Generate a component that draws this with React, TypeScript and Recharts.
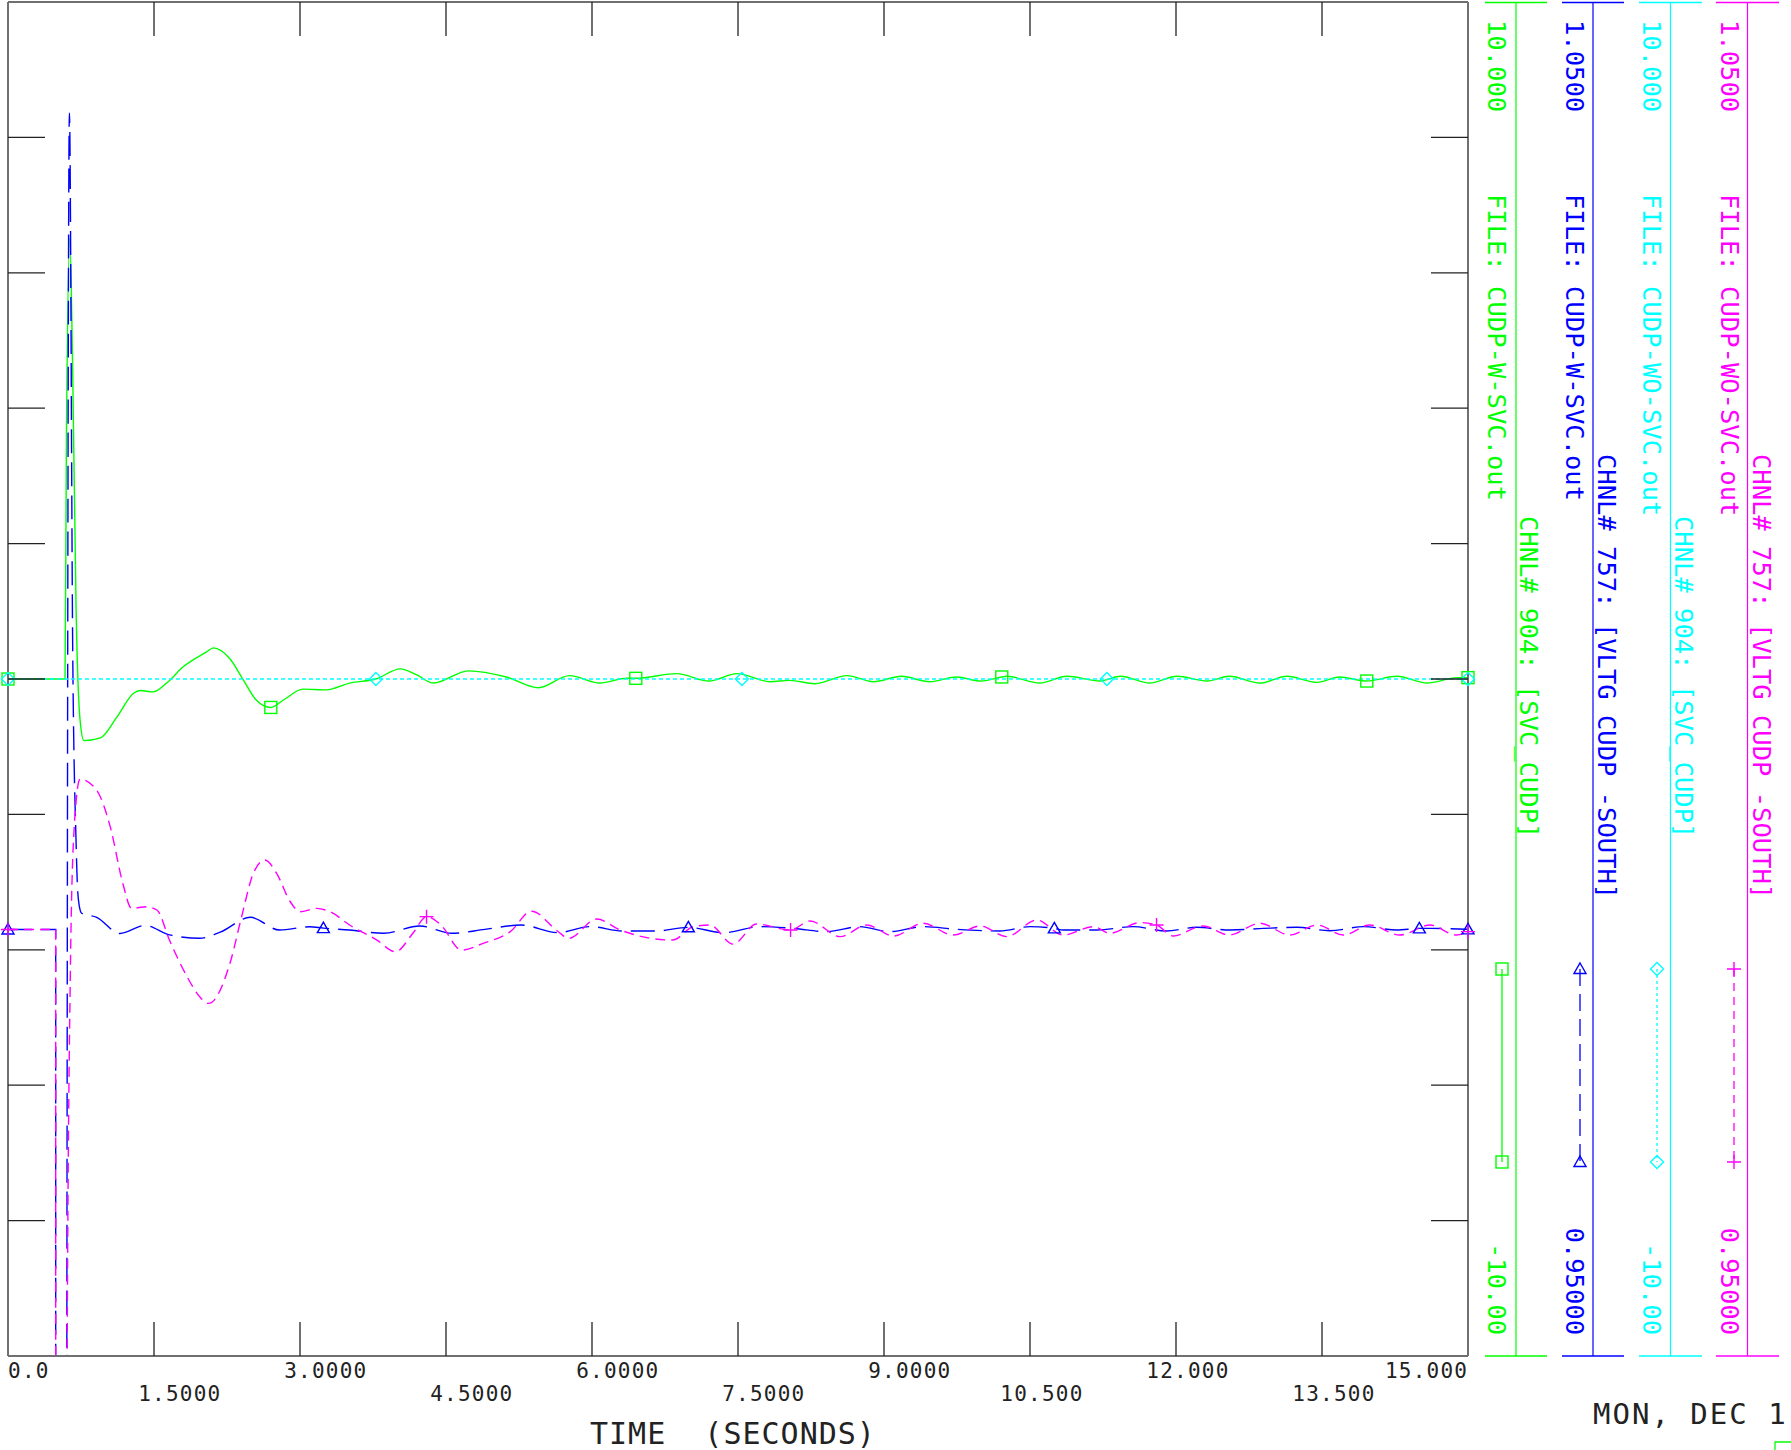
import React from 'react';
import { LineChart, Line, XAxis, YAxis } from 'recharts';

// ---------------- data ----------------
const xTicks = [0, 1.5, 3, 4.5, 6, 7.5, 9, 10.5, 12, 13.5, 15];
const xTickLabels = ['0.0', '1.5000', '3.0000', '4.5000', '6.0000', '7.5000', '9.0000', '10.500', '12.000', '13.500', '15.000'];
const voltTicks = [0.95, 0.96, 0.97, 0.98, 0.99, 1.0, 1.01, 1.02, 1.03, 1.04, 1.05];
const svcTicks = [-10, -8, -6, -4, -2, 0, 2, 4, 6, 8, 10];

// CHNL 904 SVC_CUDP, with SVC (green)
const greenTime = [0, 0.49, 0.586, 0.6, 0.635, 0.665, 0.7, 0.74, 0.78, 0.95, 1.12, 1.29, 1.36, 1.49, 1.63, 1.8, 2.04, 2.11, 2.28, 2.42, 2.55, 2.7, 2.83, 3.03, 3.27, 3.51, 3.78, 4.03, 4.2, 4.37, 4.73, 5.12, 5.45, 5.77, 6.08, 6.36, 6.45, 6.87, 7.2, 7.49, 7.83, 8.03, 8.29, 8.62, 8.89, 9.18, 9.47, 9.75, 9.99, 10.21, 10.26, 10.6, 10.88, 11.22, 11.43, 11.73, 12.01, 12.32, 12.55, 12.86, 13.14, 13.45, 13.68, 13.96, 14.27, 14.58, 14.89, 15];
const greenSvc = [0, 0, 0, 3.5, 6.5, 4.5, 1.0, -0.6, -0.91, -0.87, -0.56, -0.21, -0.17, -0.19, -0.06, 0.18, 0.4, 0.46, 0.3, -0.02, -0.31, -0.42, -0.31, -0.15, -0.16, -0.06, 0.0, 0.15, 0.06, -0.06, 0.12, 0.03, -0.13, 0.05, -0.06, 0.01, 0.01, 0.08, -0.03, 0.08, -0.04, -0.02, -0.07, 0.05, -0.04, 0.04, -0.04, 0.03, -0.03, 0.03, 0.04, -0.06, 0.04, -0.03, 0.04, -0.06, 0.04, -0.03, 0.04, -0.06, 0.04, -0.05, 0.03, -0.03, 0.04, -0.06, 0.02, 0.02];
const greenMarkers = [0, 2.7, 6.45, 10.21, 13.96, 15];

// CHNL 757 VLTG CUDP-SOUTH, with SVC (blue)
const blueTime = [0, 0.49, 0.4901, 0.6, 0.603, 0.631, 0.665, 0.7, 0.712, 0.733, 0.757, 0.911, 1.15, 1.41, 1.66, 1.97, 2.18, 2.49, 2.79, 3.1, 3.24, 3.51, 3.86, 4.23, 4.56, 4.9, 5.27, 5.65, 5.98, 6.32, 6.66, 6.99, 7.35, 7.73, 8.07, 8.41, 8.75, 9.06, 9.4, 9.75, 10.19, 10.5, 10.75, 10.84, 11.19, 11.56, 11.9, 12.21, 12.56, 12.9, 13.24, 13.58, 13.93, 14.27, 14.5, 14.61, 15];
const blueVolt = [0.9815, 0.9815, 0.85, 0.85, 0.94, 1.0418, 1.002, 0.9878, 0.9849, 0.9832, 0.9827, 0.9824, 0.9812, 0.9818, 0.9811, 0.98085, 0.9813, 0.9824, 0.98146, 0.9817, 0.9816, 0.98146, 0.98122, 0.98176, 0.98122, 0.98151, 0.98183, 0.98127, 0.98171, 0.98139, 0.98139, 0.98166, 0.98126, 0.98171, 0.98158, 0.98134, 0.98171, 0.98134, 0.98171, 0.98151, 0.98139, 0.98171, 0.98158, 0.98146, 0.98146, 0.98171, 0.98139, 0.98166, 0.98146, 0.98158, 0.98166, 0.98141, 0.98171, 0.98146, 0.98158, 0.98158, 0.98151];
const blueMarkers = [0, 3.24, 6.99, 10.75, 14.5, 15];

// CHNL 904 SVC_CUDP, without SVC (cyan)
const cyanTime = [0, 3.78, 7.54, 11.29, 15];
const cyanSvc = [0, 0, 0, 0, 0];
const cyanMarkers = [0, 3.78, 7.54, 11.29, 15];

// CHNL 757 VLTG CUDP-SOUTH, without SVC (magenta)
const magentaTime = [0, 0.49, 0.4901, 0.6, 0.605, 0.64, 0.68, 0.74, 0.91, 1.05, 1.18, 1.27, 1.42, 1.53, 1.66, 1.84, 1.97, 2.06, 2.28, 2.4, 2.52, 2.64, 2.76, 2.9, 3.0, 3.17, 3.31, 3.51, 3.79, 3.98, 4.16, 4.3, 4.44, 4.66, 4.88, 5.16, 5.38, 5.65, 5.76, 6.05, 6.29, 6.83, 7.04, 7.21, 7.45, 7.69, 8.04, 8.24, 8.55, 8.82, 9.1, 9.4, 9.71, 9.99, 10.26, 10.57, 10.84, 11.15, 11.32, 11.63, 11.8, 11.97, 12.28, 12.55, 12.86, 13.17, 13.45, 13.72, 13.99, 14.3, 14.61, 14.88, 15];
const magentaVolt = [0.9815, 0.9815, 0.85, 0.85, 0.945, 0.978, 0.989, 0.9926, 0.9918, 0.9891, 0.9849, 0.98306, 0.98318, 0.98294, 0.9807, 0.97801, 0.97653, 0.97604, 0.97899, 0.98244, 0.98564, 0.98663, 0.98564, 0.98355, 0.98281, 0.98306, 0.98281, 0.98183, 0.98072, 0.97986, 0.98122, 0.98245, 0.9819, 0.97998, 0.98047, 0.98134, 0.98285, 0.98135, 0.98085, 0.98227, 0.98146, 0.98072, 0.98171, 0.98183, 0.98042, 0.9819, 0.98146, 0.98213, 0.98097, 0.98183, 0.98102, 0.98196, 0.98109, 0.98176, 0.98097, 0.9822, 0.98109, 0.98171, 0.98122, 0.98201, 0.98183, 0.98102, 0.98176, 0.98109, 0.98196, 0.98109, 0.98183, 0.98109, 0.98183, 0.98109, 0.98183, 0.98109, 0.98134];
const magentaMarkers = [0, 4.3, 8.04, 11.8, 15];

// ---------------- styles / layout ----------------
const GREEN = '#00ff00';
const BLUE = '#0000ff';
const CYAN = '#00ffff';
const MAGENTA = '#ff00ff';
const FRAME = '#707070';
const INK = '#222222';
const MONO = '"DejaVu Sans Mono", "Liberation Mono", monospace';

const WIDTH = 1791;
const HEIGHT = 1450;
const MARGIN = { top: 1, left: 7, right: 322, bottom: 0 };
const PLOT_LEFT = 8;
const PLOT_RIGHT = 1468;
const X_AXIS_H = 94;
const PLOT_BOTTOM = HEIGHT - X_AXIS_H;
const CHAR_W = 13.85;

const toRows = (ts: number[], vs: number[]) => ts.map((t, i) => ({ t, v: vs[i] }));
const greenData = toRows(greenTime, greenSvc);
const blueData = toRows(blueTime, blueVolt);
const cyanData = toRows(cyanTime, cyanSvc);
const magentaData = toRows(magentaTime, magentaVolt);

const near = (a: number, b: number) => Math.abs(a - b) < 1e-6;

function Marker({ kind, cx, cy, color }: any) {
  const sw = 1.4;
  if (kind === 'square') return <rect x={cx - 6} y={cy - 6} width={12} height={12} fill="none" stroke={color} strokeWidth={sw} />;
  if (kind === 'triangle') return <path d={`M${cx},${cy - 6} L${cx + 6},${cy + 4.5} L${cx - 6},${cy + 4.5} Z`} fill="none" stroke={color} strokeWidth={sw} />;
  if (kind === 'diamond') return <path d={`M${cx},${cy - 6.5} L${cx + 6.5},${cy} L${cx},${cy + 6.5} L${cx - 6.5},${cy} Z`} fill="none" stroke={color} strokeWidth={sw} />;
  return <path d={`M${cx - 7},${cy} H${cx + 7} M${cx},${cy - 7} V${cy + 7}`} fill="none" stroke={color} strokeWidth={sw} />;
}

const makeDot = (kind: string, color: string, times: number[]) => (props: any) => {
  const { cx, cy, payload, index } = props;
  if (cx == null || cy == null || !payload || !times.some((m) => near(m, payload.t))) return <g key={`d${index}`} />;
  return <g key={`d${index}`}><Marker kind={kind} cx={cx} cy={cy} color={color} /></g>;
};

function BottomTick(props: any) {
  const { x, y, payload } = props;
  const i = xTicks.findIndex((v) => near(v, payload.value));
  const label = xTickLabels[i] ?? String(payload.value);
  const dot = label.indexOf('.');
  const w = label.length * CHAR_W;
  let start = x - dot * CHAR_W - 2;
  start = Math.max(PLOT_LEFT, Math.min(start, PLOT_RIGHT - w));
  const edge = i === 0 || i === xTicks.length - 1;
  return (
    <g>
      {!edge && <line x1={x} x2={x} y1={y} y2={y - 34} stroke={INK} strokeWidth={1.3} />}
      <text x={start} y={y + (i % 2 === 0 ? 22 : 45)} fontFamily={MONO} fontSize={21} letterSpacing={1.25} fill={INK}>{label}</text>
    </g>
  );
}

function TopTick(props: any) {
  const { x, y, payload } = props;
  if (near(payload.value, 0) || near(payload.value, 15)) return <g />;
  return <line x1={x} x2={x} y1={y} y2={y + 34} stroke={INK} strokeWidth={1.3} />;
}

function LeftTick(props: any) {
  const { x, y, payload } = props;
  if (near(payload.value, voltTicks[0]) || near(payload.value, voltTicks[voltTicks.length - 1])) return <g />;
  return <line x1={x} x2={x + 37} y1={y} y2={y} stroke={INK} strokeWidth={1.3} />;
}

function RightTick(props: any) {
  const { x, y, payload } = props;
  if (near(payload.value, svcTicks[0]) || near(payload.value, svcTicks[svcTicks.length - 1])) return <g />;
  return <line x1={x - 37} x2={x} y1={y} y2={y} stroke={INK} strokeWidth={1.3} />;
}

// ---------------- legend ----------------
const legendColumns = [
  { color: GREEN, top: '10.000', file: 'FILE: CUDP-W-SVC.out', chnl: 'CHNL# 904: [SVC_CUDP]', bottom: '-10.00', marker: 'square', dash: undefined as string | undefined },
  { color: BLUE, top: '1.0500', file: 'FILE: CUDP-W-SVC.out', chnl: 'CHNL# 757: [VLTG CUDP -SOUTH]', bottom: '0.95000', marker: 'triangle', dash: '17 8' },
  { color: CYAN, top: '10.000', file: 'FILE: CUDP-WO-SVC.out', chnl: 'CHNL# 904: [SVC_CUDP]', bottom: '-10.00', marker: 'diamond', dash: '3 3' },
  { color: MAGENTA, top: '1.0500', file: 'FILE: CUDP-WO-SVC.out', chnl: 'CHNL# 757: [VLTG CUDP -SOUTH]', bottom: '0.95000', marker: 'plus', dash: '8 6' },
];
const legendGeom = [
  { x1: 1485, x2: 1547, vline: 1516, text: 1497.5, chnl: 1529.5, sample: 1502, chnlY: 516 },
  { x1: 1562, x2: 1624, vline: 1593, text: 1575.5, chnl: 1607, sample: 1580, chnlY: 454 },
  { x1: 1639, x2: 1702, vline: 1670.5, text: 1652.5, chnl: 1684, sample: 1657, chnlY: 516 },
  { x1: 1716, x2: 1779, vline: 1747.5, text: 1730, chnl: 1762, sample: 1734, chnlY: 454 },
];

function VText({ x, y, color, anchor = 'start', children }: any) {
  return (
    <text transform={`translate(${x},${y}) rotate(90)`} dy="0.36em" textAnchor={anchor} fontFamily={MONO} fontSize={25.5} fill={color}>
      {children}
    </text>
  );
}

function LegendOverlay() {
  return (
    <svg width={WIDTH} height={HEIGHT} style={{ position: 'absolute', left: 0, top: 0, pointerEvents: 'none' }}>
      {legendColumns.map((c, i) => {
        const g = legendGeom[i];
        return (
          <g key={i}>
            <line x1={g.x1} x2={g.x2} y1={2.5} y2={2.5} stroke={c.color} strokeWidth={1.5} />
            <line x1={g.x1} x2={g.x2} y1={PLOT_BOTTOM} y2={PLOT_BOTTOM} stroke={c.color} strokeWidth={1.5} />
            <line x1={g.vline} x2={g.vline} y1={2.5} y2={PLOT_BOTTOM} stroke={c.color} strokeWidth={1.2} />
            <VText x={g.text} y={20} color={c.color}>{c.top}</VText>
            <VText x={g.text} y={194} color={c.color}>{c.file}</VText>
            <VText x={g.chnl} y={g.chnlY} color={c.color}>{c.chnl}</VText>
            <VText x={g.text} y={1335} color={c.color} anchor="end">{c.bottom}</VText>
            <line x1={g.sample} x2={g.sample} y1={969} y2={1162} stroke={c.color} strokeWidth={1.3} strokeDasharray={c.dash} />
            <Marker kind={c.marker} cx={g.sample} cy={969} color={c.color} />
            <Marker kind={c.marker} cx={g.sample} cy={1162} color={c.color} />
          </g>
        );
      })}
      <text x={590} y={1444} fontFamily={MONO} fontSize={30} letterSpacing={1} fill={INK} style={{ whiteSpace: 'pre' }}>{'TIME  (SECONDS)'}</text>
      <text x={1593} y={1424} fontFamily={MONO} fontSize={29} letterSpacing={2} fill={INK}>MON, DEC 1</text>
      <path d="M1775,1450 V1442 H1791" fill="none" stroke={GREEN} strokeWidth={1.3} />
    </svg>
  );
}

export default function App() {
  return (
    <div style={{ position: 'absolute', left: 0, top: 0, width: WIDTH, height: HEIGHT, background: '#fff' }}>
      <LineChart width={WIDTH} height={HEIGHT} margin={MARGIN}>
        <XAxis xAxisId="b" dataKey="t" type="number" domain={[0, 15]} ticks={xTicks} interval={0}
          height={X_AXIS_H} tickSize={0} tickMargin={0} tickLine={false}
          axisLine={{ stroke: FRAME, strokeWidth: 2 }} tick={(p: any) => <BottomTick {...p} />} />
        <XAxis xAxisId="top" orientation="top" dataKey="t" type="number" domain={[0, 15]} ticks={xTicks} interval={0}
          height={1} tickSize={0} tickMargin={0} tickLine={false}
          axisLine={{ stroke: FRAME, strokeWidth: 2 }} tick={(p: any) => <TopTick {...p} />} />
        <YAxis yAxisId="v" type="number" domain={[0.95, 1.05]} ticks={voltTicks} interval={0} allowDataOverflow
          width={1} tickSize={0} tickMargin={0} tickLine={false}
          axisLine={{ stroke: FRAME, strokeWidth: 2 }} tick={(p: any) => <LeftTick {...p} />} />
        <YAxis yAxisId="q" orientation="right" type="number" domain={[-10, 10]} ticks={svcTicks} interval={0} allowDataOverflow
          width={1} tickSize={0} tickMargin={0} tickLine={false}
          axisLine={{ stroke: FRAME, strokeWidth: 2 }} tick={(p: any) => <RightTick {...p} />} />
        <Line data={greenData} dataKey="v" xAxisId="b" yAxisId="q" type="monotone" stroke={GREEN} strokeWidth={1.4}
          dot={makeDot('square', GREEN, greenMarkers)} activeDot={false} isAnimationActive={false} />
        <Line data={blueData} dataKey="v" xAxisId="b" yAxisId="v" type="monotone" stroke={BLUE} strokeWidth={1.4} strokeDasharray="24 9"
          dot={makeDot('triangle', BLUE, blueMarkers)} activeDot={false} isAnimationActive={false} />
        <Line data={cyanData} dataKey="v" xAxisId="top" yAxisId="q" type="monotone" stroke={CYAN} strokeWidth={1.3} strokeDasharray="4 3"
          dot={makeDot('diamond', CYAN, cyanMarkers)} activeDot={false} isAnimationActive={false} />
        <Line data={magentaData} dataKey="v" xAxisId="b" yAxisId="v" type="monotone" stroke={MAGENTA} strokeWidth={1.4} strokeDasharray="10 6"
          dot={makeDot('plus', MAGENTA, magentaMarkers)} activeDot={false} isAnimationActive={false} />
      </LineChart>
      <LegendOverlay />
    </div>
  );
}
